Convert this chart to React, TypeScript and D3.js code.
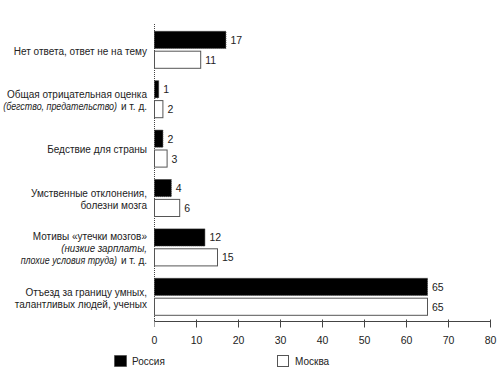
import React from "react";
import * as d3 from "d3";

const categories = [
  "Нет ответа, ответ не на тему",
  "Общая отрицательная оценка",
  "Бедствие для страны",
  "Умственные отклонения",
  "Мотивы «утечки мозгов»",
  "Отъезд за границу умных",
];
// label lines: each line is list of [text, italic]
const labelLines: [string, boolean][][][] = [
  [[["Нет ответа, ответ не на тему", false]]],
  [
    [["Общая отрицательная оценка", false]],
    [["(бегство, предательство)", true], ["и т. д.", false]],
  ],
  [[["Бедствие для страны", false]]],
  [[["Умственные отклонения,", false]], [["болезни мозга", false]]],
  [
    [["Мотивы «утечки мозгов»", false]],
    [["(низкие зарплаты,", true]],
    [["плохие условия труда)", true], ["и т. д.", false]],
  ],
  [[["Отъезд за границу умных,", false]], [["талантливых людей, ученых", false]]],
];
const series = ["Россия", "Москва"];
const russia = [17, 1, 2, 4, 12, 65];
const moscow = [11, 2, 3, 6, 15, 65];
const xTicks = [0, 10, 20, 30, 40, 50, 60, 70, 80];

const W = 500;
const H = 376;
const FONT = "'Liberation Sans', Arial, sans-serif";

export default function App() {
  const x = d3.scaleLinear().domain([0, 80]).range([154.5, 490.5]);
  const y = d3.scaleBand<string>().domain(categories).range([28.3, 324.7]);
  const yi = d3.scaleBand<string>().domain(series).range([3, 40]).paddingInner(0.14);
  const values = [russia, moscow];
  const axisY = 321.5;
  const lineH = 12;
  const labelRight = 147;

  return (
    <svg width={W} height={H} style={{ position: "absolute", left: 0, top: 0, background: "#fff" }} fontFamily={FONT}>
      <line x1={x(0)} x2={x(0)} y1={24} y2={axisY} stroke="#444" strokeDasharray="1,1" />
      {categories.map((c, i) => {
        const y0 = y(c)!;
        const lines = labelLines[i];
        const center = y0 + y.bandwidth() / 2 - 2;
        const startY = center - ((lines.length - 1) * lineH) / 2 + 3.5;
        return (
          <g key={c}>
            {series.map((s, si) => {
              const v = values[si][i];
              const by = y0 + yi(s)!;
              const bh = yi.bandwidth();
              return (
                <g key={s}>
                  <rect
                    x={x(0)}
                    y={by}
                    width={x(v) - x(0)}
                    height={bh}
                    fill={si === 0 ? "#000" : "#fff"}
                    stroke={si === 0 ? "#333" : "#555"}
                    strokeWidth={1}
                    strokeDasharray={si === 0 ? "1,1" : undefined}
                  />
                  <text x={x(v) + 4.5} y={by + bh / 2 + 4} fontSize={10.5} fill="#222">
                    {v}
                  </text>
                </g>
              );
            })}
            {lines.map((ln, li) => {
              const ly = startY + li * lineH;
              let right = labelRight;
              const segs = [...ln].reverse();
              const mixed = segs.length > 1;
              return (
                <g key={li}>
                  {segs.map(([t, it], k) => {
                    const endX = right;
                    if (k < segs.length - 1) right = endX - 30;
                    const sx = it ? (mixed ? 0.89 : 0.97) : 1;
                    return (
                      <text
                        key={k}
                        x={0}
                        y={0}
                        transform={`translate(${endX},${ly}) scale(${sx},1)`}
                        fontSize={10}
                        fill="#222"
                        fontStyle={it ? "italic" : "normal"}
                        textAnchor="end"
                      >
                        {t}
                      </text>
                    );
                  })}
                </g>
              );
            })}
          </g>
        );
      })}
      <line x1={x(0)} x2={x(80)} y1={axisY} y2={axisY} stroke="#444" />
      {xTicks.map((t) => (
        <g key={t}>
          <line x1={x(t)} x2={x(t)} y1={axisY - 2} y2={axisY + 6} stroke="#444" strokeDasharray={t === 0 ? "1,1" : undefined} />
          <text x={x(t)} y={344} fontSize={10.5} fill="#222" textAnchor="middle">
            {t}
          </text>
        </g>
      ))}
      <rect x={114.5} y={355.5} width={12} height={11} fill="#000" stroke="#333" strokeDasharray="1,1" />
      <text x={132} y={365} fontSize={10} fill="#222">
        {series[0]}
      </text>
      <rect x={277.5} y={355.5} width={11} height={11} fill="#fff" stroke="#555" />
      <text x={295} y={365} fontSize={10} fill="#222">
        {series[1]}
      </text>
    </svg>
  );
}
